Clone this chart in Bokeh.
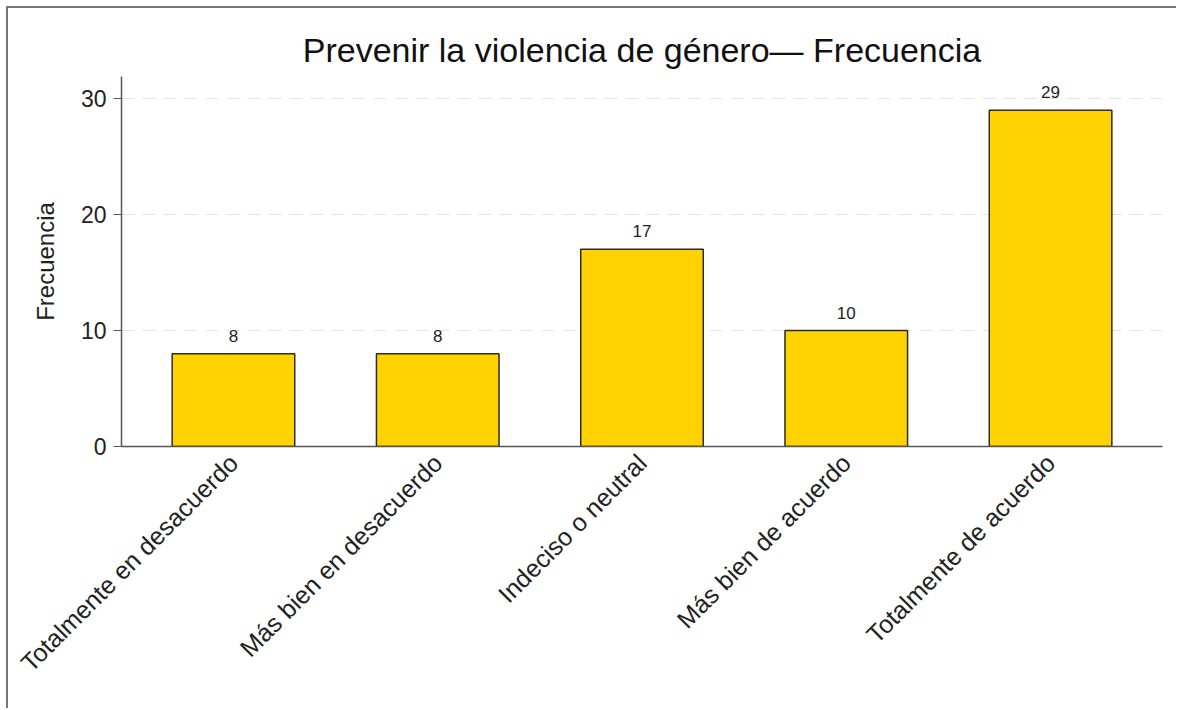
import math
from bokeh.plotting import figure
from bokeh.models import ColumnDataSource, FactorRange, LabelSet, Range1d, FixedTicker
from bokeh.layouts import column
from bokeh.core.properties import value
from bokeh.embed import file_html
from bokeh.resources import INLINE

categories = ["Totalmente en desacuerdo", "Más bien en desacuerdo", "Indeciso o neutral",
              "Más bien de acuerdo", "Totalmente de acuerdo"]
counts = [8, 8, 17, 10, 29]
y_ticks = [0, 10, 20, 30]
title_text = "Prevenir la violencia de género— Frecuencia"
y_label = "Frecuencia"

FONT = "Liberation Sans"

source = ColumnDataSource(data=dict(cat=categories, n=counts, lab=[str(c) for c in counts]))

p = figure(
    x_range=FactorRange(factors=categories, range_padding=0.048, range_padding_units="absolute"),
    y_range=Range1d(0, max(counts) * 1.1),
    width=1168, height=700,
    output_backend="svg", toolbar_location=None,
    min_border_left=113, min_border_right=14, min_border_top=68, min_border_bottom=262,
    title=title_text,
)

p.vbar(x="cat", top="n", width=0.6, source=source,
       fill_color="#FFD200", line_color="#2e2a1a", line_width=1.5)

labels = LabelSet(x="cat", y="n", text="lab", source=source, y_offset=12,
                  text_align="center", text_baseline="alphabetic",
                  text_font=value(FONT), text_font_size=value("17px"), text_color="#222222")
p.add_layout(labels)

p.title.text_font = FONT
p.title.text_font_size = "34px"
p.title.text_font_style = "normal"
p.title.align = "center"
p.title.text_color = "#111111"
p.title.standoff = 16

p.outline_line_color = None
p.border_fill_color = "white"
p.background_fill_color = "white"

p.xgrid.grid_line_color = None
p.ygrid.grid_line_color = "#e3e3e3"
p.ygrid.grid_line_dash = "13 8"
p.ygrid.grid_line_width = 1.2

p.yaxis.ticker = FixedTicker(ticks=y_ticks)
p.yaxis.axis_label = y_label
p.yaxis.axis_label_text_font = FONT
p.yaxis.axis_label_text_font_size = "24px"
p.yaxis.axis_label_text_font_style = "normal"
p.yaxis.axis_label_text_color = "#222222"
p.yaxis.axis_label_standoff = 19
p.yaxis.major_label_text_font = FONT
p.yaxis.major_label_text_font_size = "23px"
p.yaxis.major_label_text_color = "#222222"
p.yaxis.major_tick_out = 8
p.yaxis.major_tick_in = 0
p.yaxis.minor_tick_line_color = None
p.yaxis.axis_line_color = "#555555"
p.yaxis.major_tick_line_color = "#555555"
p.yaxis.axis_line_width = 1.5
p.yaxis.major_label_standoff = 7

p.xaxis.major_label_orientation = math.pi / 4
p.xaxis.major_label_text_font = FONT
p.xaxis.major_label_text_font_size = "25px"
p.xaxis.major_label_text_color = "#222222"
p.xaxis.major_tick_line_color = None
p.xaxis.minor_tick_line_color = None
p.xaxis.axis_line_color = "#555555"
p.xaxis.axis_line_width = 1.5
p.xaxis.major_label_standoff = 6

layout = column(p, styles={"margin-left": "6px", "margin-top": "6px",
                           "border-left": "2px solid #777777", "border-top": "2px solid #777777"})

open("out.html", "w").write(file_html(layout, INLINE))
